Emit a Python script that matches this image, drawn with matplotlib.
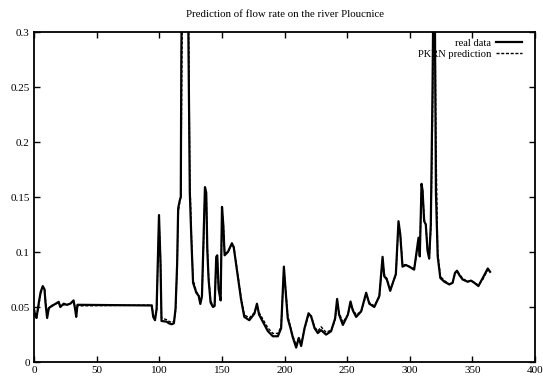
import matplotlib
matplotlib.use("Agg")
import matplotlib.pyplot as plt
from matplotlib.ticker import FormatStrFormatter, MultipleLocator

plt.rcParams['font.family'] = ['Liberation Serif', 'DejaVu Serif']

# day of year and flow rate
days = [0, 1, 2, 4, 5.3, 7, 8.4, 9.2, 10.5, 11.8, 13, 15.8, 19.7, 21, 23.7, 26.3, 29, 31.6, 33, 33.7,
        34.7, 94, 95.2, 96.6, 97.9, 99.8, 101, 101.8, 105.8, 107.7, 109.8, 111.7, 113, 114.3, 115.1,
        116.4, 117.2, 117.6, 118.5, 121, 123, 124.4, 125.7, 127, 129.6, 131.5, 132.8, 134.1, 135.7,
        136.5, 137.5, 138.4, 139.4, 141, 142.9, 144.2, 145.5, 146.3, 147.4, 149, 150.1, 151.1, 152.2,
        154.8, 158, 159.5, 162.7, 165.3, 167.9, 171.9, 176, 178, 179.7, 182.7, 186.7, 190.7, 194.7,
        197.3, 199.5, 200.8, 202.6, 204.8, 206.6, 209.3, 211.4, 213.3, 216, 219.2, 221.3, 224, 226.6,
        229.2, 233.2, 237.2, 240.4, 242, 243.6, 246.6, 250.6, 252.7, 254.5, 257.2, 261.2, 265.2, 267.7,
        271.7, 275.7, 278.3, 279.6, 281.7, 284.4, 286.2, 288.9, 291, 292.4, 294.2, 296.9, 299.5, 303.5,
        305.6, 307, 308, 309.4, 310.2, 311.5, 312.8, 314.2, 315.5, 316.8, 318.2, 319.5, 320.9, 322.3,
        324.4, 327.6, 331.6, 334.2, 336.1, 337.7, 339.6, 342.2, 346.2, 348.9, 351.6, 354.8, 358.3,
        362.3, 364.1]

real = [0.048, 0.042, 0.040, 0.055, 0.0635, 0.069, 0.066, 0.0535, 0.040, 0.049, 0.050, 0.052, 0.0547,
        0.050, 0.053, 0.052, 0.053, 0.056, 0.047, 0.041, 0.052, 0.0514, 0.041, 0.038, 0.0484, 0.1336,
        0.0897, 0.0373, 0.0367, 0.0352, 0.0343, 0.0352, 0.0484, 0.0897, 0.1397, 0.147, 0.150, 0.274,
        0.40, 0.48, 0.33, 0.154, 0.110, 0.072, 0.063, 0.060, 0.0528, 0.060, 0.125, 0.159, 0.154, 0.101,
        0.075, 0.054, 0.050, 0.051, 0.0956, 0.097, 0.066, 0.056, 0.141, 0.125, 0.097, 0.100, 0.108,
        0.104, 0.078, 0.057, 0.041, 0.038, 0.044, 0.053, 0.043, 0.0367, 0.0281, 0.0234, 0.0234, 0.0307,
        0.0867, 0.066, 0.0396, 0.0307, 0.0225, 0.0131, 0.0219, 0.0145, 0.0307, 0.0443, 0.0413, 0.0307,
        0.0263, 0.029, 0.0249, 0.028, 0.0396, 0.0573, 0.043, 0.0337, 0.043, 0.055, 0.047, 0.041, 0.046,
        0.063, 0.053, 0.050, 0.060, 0.0956, 0.078, 0.075, 0.0647, 0.071, 0.080, 0.128, 0.116, 0.0867,
        0.0882, 0.0867, 0.084, 0.101, 0.113, 0.096, 0.162, 0.156, 0.128, 0.125, 0.101, 0.094, 0.125,
        0.25, 0.42, 0.154, 0.096, 0.0764, 0.073, 0.0705, 0.072, 0.081, 0.083, 0.079, 0.075, 0.073,
        0.074, 0.072, 0.069, 0.0764, 0.085, 0.082]

pred = [0.049, 0.044, 0.041, 0.053, 0.062, 0.068, 0.067, 0.056, 0.042, 0.048, 0.051, 0.052, 0.054,
        0.051, 0.052, 0.052, 0.053, 0.055, 0.049, 0.043, 0.051, 0.0518, 0.043, 0.039, 0.046, 0.128,
        0.095, 0.040, 0.0385, 0.037, 0.036, 0.037, 0.046, 0.085, 0.135, 0.146, 0.150, 0.20, 0.33, 0.46,
        0.38, 0.17, 0.115, 0.075, 0.064, 0.061, 0.054, 0.059, 0.120, 0.156, 0.155, 0.105, 0.078, 0.056,
        0.051, 0.052, 0.092, 0.096, 0.069, 0.057, 0.136, 0.128, 0.099, 0.100, 0.107, 0.105, 0.080,
        0.059, 0.043, 0.040, 0.045, 0.052, 0.045, 0.039, 0.031, 0.026, 0.026, 0.032, 0.083, 0.068,
        0.042, 0.032, 0.024, 0.015, 0.022, 0.016, 0.030, 0.043, 0.042, 0.032, 0.028, 0.032, 0.027,
        0.029, 0.038, 0.055, 0.045, 0.036, 0.043, 0.053, 0.048, 0.043, 0.046, 0.061, 0.054, 0.051,
        0.059, 0.092, 0.080, 0.076, 0.066, 0.071, 0.079, 0.124, 0.118, 0.089, 0.088, 0.087, 0.085,
        0.099, 0.111, 0.098, 0.158, 0.157, 0.130, 0.125, 0.103, 0.095, 0.120, 0.22, 0.40, 0.20, 0.100,
        0.078, 0.074, 0.071, 0.072, 0.080, 0.083, 0.080, 0.076, 0.073, 0.074, 0.072, 0.070, 0.075,
        0.084, 0.083]

fig = plt.figure(figsize=(5.43, 3.88), dpi=100)
ax = fig.add_axes([0.0626, 0.067, 0.9227, 0.8505])

ax.plot(days, real, color='black', lw=1.6, label='real data')
ax.plot(days, pred, color='black', lw=1.0, dashes=(2.2, 1.2), label='PKRN prediction')

ax.set_xlim(0, 400)
ax.set_ylim(0, 0.3)
ax.xaxis.set_major_locator(MultipleLocator(50))
ax.yaxis.set_major_locator(MultipleLocator(0.05))
ax.yaxis.set_major_formatter(FormatStrFormatter('%g'))
ax.tick_params(direction='in', top=True, right=True, length=4, width=1.0, labelsize=8, pad=3)
for s in ax.spines.values():
    s.set_linewidth(1.3)

ax.set_title('Prediction of flow rate on the river Ploucnice', fontsize=7.8, pad=11)

ax.legend(loc='upper right', bbox_to_anchor=(0.99, 1.005), frameon=False, markerfirst=False,
          fontsize=7.6, handlelength=2.4, handletextpad=0.5, labelspacing=0.12, borderpad=0.3)

fig.savefig('out.png', dpi=100)
